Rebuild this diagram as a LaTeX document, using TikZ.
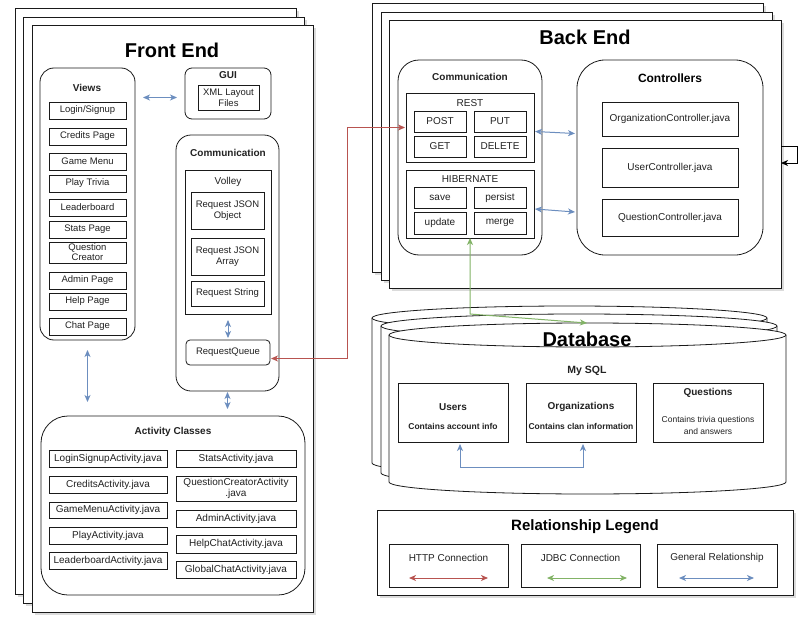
\documentclass[tikz,border=0pt]{standalone}
\usepackage{fontspec}
\setmainfont{Liberation Sans}
\usetikzlibrary{arrows.meta,calc}
\definecolor{cred}{HTML}{B85450}
\definecolor{cgreen}{HTML}{82B366}
\definecolor{cblue}{HTML}{6C8EBF}
\definecolor{cline}{HTML}{1A1A1A}
\definecolor{ctext}{HTML}{222222}
\newcommand{\fs}[2]{\fontsize{#1}{#2}\selectfont}
\newcommand{\bx}[7]{\node[#1, minimum width={#5-#3}, minimum height={#6-#4}] (#2) at ({(#3+#5)/2},{(#4+#6)/2}) {#7};}
\newcommand{\cyl}[4]{%
  \filldraw[cylst] (#1,#3) -- (#1,#4) arc[start angle=180,end angle=0,x radius={(#2-#1)/2},y radius=12] -- (#2,#3) arc[start angle=0,end angle=-180,x radius={(#2-#1)/2},y radius=12] -- cycle;
  \draw[cylst] (#1,#3) arc[start angle=180,end angle=0,x radius={(#2-#1)/2},y radius=12];}
\begin{document}
\begin{tikzpicture}[x=1pt,y=-1pt,
  box/.style={draw=cline, line width=0.8pt, fill=white, inner sep=0pt, outer sep=0pt, align=center, text=ctext, font=\fs{9.5}{11}},
  rbox/.style={box, rounded corners=#1pt},
  sheet/.style={box, preaction={fill=black!14, transform canvas={xshift=2.5pt,yshift=-2.5pt}}},
  item/.style={box},
  aitem/.style={box, font=\fs{10}{11.5}},
  citem/.style={box, font=\fs{10}{12}},
  title/.style={font=\bfseries\fs{20}{24}, text=black},
  tbold/.style={font=\bfseries\fs{10}{12}, text=ctext},
  treg/.style={font=\fs{10}{12}, text=ctext},
  small/.style={font=\fs{8.5}{10}, text=ctext, align=center},
  smallb/.style={font=\bfseries\fs{8.5}{10}, text=ctext},
  cylst/.style={draw=cline, line width=0.8pt, fill=white},
  gen/.style={draw=cblue, line width=1pt, arrows={Stealth[length=7pt,width=6pt,inset=2pt]-Stealth[length=7pt,width=6pt,inset=2pt]}},
  http/.style={gen, draw=cred},
  jdbc/.style={gen, draw=cgreen},
  loop/.style={draw=black, line width=1pt, arrows={-Stealth[length=7pt,width=6pt,inset=2pt]}}
]
\useasboundingbox (0,0) rectangle (812,621);

% ---------------- Front End ----------------
\bx{sheet}{fe1}{15}{8}{296}{594}{}
\bx{sheet}{fe2}{23}{17}{304}{603}{}
\bx{sheet}{fe}{32}{25}{313}{612}{}
\node[title] (fetitle) at (172,50) {Front End};

\bx{rbox=14}{views}{40}{68}{135}{340}{}
\node[tbold] (lviews) at (87,88) {Views};
\bx{item}{v1}{49}{102}{126}{119}{Login/Signup}
\bx{item}{v2}{49}{128}{126}{145}{Credits Page}
\bx{item}{v3}{49}{153}{126}{170}{Game Menu}
\bx{item}{v4}{49}{175}{126}{192}{Play Trivia}
\bx{item}{v5}{49}{199}{126}{216}{Leaderboard}
\bx{item}{v6}{49}{221}{126}{238}{Stats Page}
\bx{item}{v7}{49}{242}{126}{263}{Question\\[-1pt]Creator}
\bx{item}{v8}{49}{272}{126}{289}{Admin Page}
\bx{item}{v9}{49}{293}{126}{310}{Help Page}
\bx{item}{v10}{49}{318}{126}{335}{Chat Page}

\bx{rbox=7}{gui}{185}{68}{271}{119}{}
\node[tbold] (lgui) at (228,75) {GUI};
\bx{item}{xml}{198}{85}{259}{110}{XML Layout\\Files}
\draw[gen] ($(views.east|-xml.center)+(8,0)$) -- ($(gui.west|-xml.center)+(-8,0)$);

\bx{rbox=15}{commf}{176}{135}{279}{391}{}
\node[tbold] (lcommf) at (228,153) {Communication};
\bx{item}{volley}{185}{170}{271}{314}{}
\node[treg] (lvolley) at (228,182) {Volley};
\bx{item}{rjo}{191}{192}{264}{229}{Request JSON\\Object}
\bx{item}{rja}{191}{238}{264}{275}{Request JSON\\Array}
\bx{item}{rs}{191}{281}{264}{306}{Request String}
\bx{rbox=4}{rq}{186}{340}{270}{365}{RequestQueue}
\draw[gen, shorten <=6pt, shorten >=2pt] (volley.south) -- (rq.north);

\bx{rbox=27}{act}{41}{416}{305}{595}{}
\node[tbold] (lact) at (173,432) {Activity Classes};
\bx{aitem}{a1}{49}{450}{167}{467}{LoginSignupActivity.java}
\bx{aitem}{a2}{49}{476}{167}{493}{CreditsActivity.java}
\bx{aitem}{a3}{49}{502}{167}{518}{GameMenuActivity.java}
\bx{aitem}{a4}{49}{527}{167}{544}{PlayActivity.java}
\bx{aitem}{a5}{49}{552}{167}{569}{LeaderboardActivity.java}
\bx{aitem}{a6}{176}{450}{296}{467}{StatsActivity.java}
\bx{aitem}{a7}{176}{476}{296}{501}{QuestionCreatorActivity\\.java}
\bx{aitem}{a8}{176}{510}{296}{527}{AdminActivity.java}
\bx{aitem}{a9}{176}{535}{296}{553}{HelpChatActivity.java}
\bx{aitem}{a10}{176}{561}{296}{578}{GlobalChatActivity.java}

\draw[gen, shorten <=1pt, shorten >=7pt] (commf.south) -- (commf.south|-act.north);
\draw[gen, shorten <=10pt, shorten >=14pt] (views.south) -- (views.south|-act.north);

% ---------------- Back End ----------------
\bx{sheet}{be1}{372}{3}{763}{272}{}
\bx{sheet}{be2}{381}{12}{772}{280}{}
\bx{sheet}{be}{389}{20}{781}{288}{}
\node[title] (betitle) at (585,37) {Back End};

\bx{rbox=21}{commb}{398}{60}{542}{255}{}
\node[tbold] (lcommb) at (470,77) {Communication};
\bx{item}{rest}{406}{93}{534}{162}{}
\node[treg] (lrest) at (470,103) {REST};
\bx{citem}{post}{414}{111}{466}{132}{POST}
\bx{citem}{put}{474}{111}{526}{132}{PUT}
\bx{citem}{get}{414}{136}{466}{157}{GET}
\bx{citem}{del}{474}{136}{526}{157}{DELETE}
\bx{item}{hib}{406}{170}{534}{238}{}
\node[treg] (lhib) at (470,179) {HIBERNATE};
\bx{citem}{save}{414}{187}{466}{208}{save}
\bx{citem}{persist}{474}{187}{526}{208}{persist}
\bx{citem}{update}{414}{212}{466}{234}{update}
\bx{citem}{merge}{474}{212}{526}{234}{merge}

\bx{rbox=28}{ctrl}{577}{60}{763}{255}{}
\node[font=\bfseries\fs{12}{14}, text=black] (lctrl) at (670,78) {Controllers};
\bx{citem}{orgc}{602}{102}{738}{136}{OrganizationController.java}
\bx{citem}{userc}{602}{148}{738}{187}{UserController.java}
\bx{citem}{qc}{602}{199}{738}{236}{QuestionController.java}

\draw[gen] ($(rest.east)+(1,4)$) -- ($(ctrl.west|-rest.east)+(-2,6)$);
\draw[gen] ($(hib.east)+(1,5)$) -- ($(ctrl.west|-hib.east)+(-2,8)$);
\draw[loop] ($(be.east)+(0,-8)$) -- ++(16,0) -- ++(0,17) -- ($(be.east)+(0,9)$);

% ---------------- Database ----------------
\cyl{372}{767}{318}{463}
\cyl{381}{777}{326}{473}
\cyl{389}{786}{335}{482}
\coordinate (dbtop) at (587,323);
\node[title] (dbtitle) at (587,339) {Database};
\node[font=\bfseries\fs{10.5}{12}, text=ctext] (mysql) at (587,371) {My SQL};
\bx{item}{users}{398}{383}{508}{442}{}
\node[tbold] (lusers) at (453,407) {Users};
\node[smallb] (dusers) at (453,426) {Contains account info};
\bx{item}{org}{526}{383}{636}{442}{}
\node[tbold] (lorg) at (581,407) {Organizations};
\node[smallb] (dorg) at (581,426) {Contains clan information};
\bx{item}{ques}{653}{383}{763}{442}{}
\node[tbold] (lques) at (708,393) {Questions};
\node[small] (dques) at (708,425.5) {Contains trivia questions\\[2pt]and answers};
\draw[gen, shorten <=2pt, shorten >=2pt] ($(users.south)+(7,0)$) -- ++(0,25) -| ($(org.south)+(2,0)$);

% ---------------- Connections ----------------
\draw[http, shorten <=1pt, shorten >=1pt] ($(rq.east)+(0,6)$) -| ($(rest.west)+(-59,0)$) -- (rest.west);
\draw[jdbc] (hib.south) -- ++(0,76) -- (dbtop);

% ---------------- Legend ----------------
\bx{sheet}{legend}{377}{510}{793}{595}{}
\node[font=\bfseries\fs{15}{18}, text=black] (lleg) at (585,527) {Relationship Legend};
\bx{item}{lh}{389}{544}{508}{587}{}
\node[treg] (tlh) at ($(lh.north)+(0,14)$) {HTTP Connection};
\draw[http] ($(lh.south west)+(20,-9)$) -- ($(lh.south east)+(-20,-9)$);
\bx{item}{lj}{521}{544}{640}{587}{}
\node[treg] (tlj) at ($(lj.north)+(0,14)$) {JDBC Connection};
\draw[jdbc] ($(lj.south west)+(26,-9)$) -- ($(lj.south east)+(-13,-9)$);
\bx{item}{lg}{657}{544}{777}{587}{}
\node[treg] (tlg) at ($(lg.north)+(0,14)$) {General Relationship};
\draw[gen] ($(lg.south west)+(22,-9)$) -- ($(lg.south east)+(-23,-9)$);
\end{tikzpicture}
\end{document}
